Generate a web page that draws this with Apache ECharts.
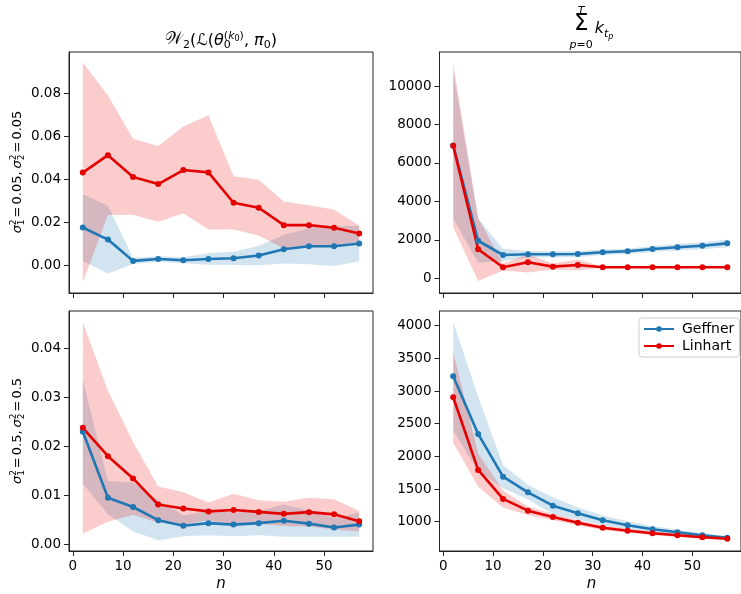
<!DOCTYPE html>
<html><head><meta charset="utf-8">
<script src="https://cdn.jsdelivr.net/npm/echarts@6/dist/echarts.min.js"></script>
<style>html,body{margin:0;padding:0;background:#fff}#c{width:741px;height:594px}</style>
</head><body><div id="c"></div>
<script>
// ---------- data ----------
const nValues = [2, 7, 12, 17, 22, 27, 32, 37, 42, 47, 52, 57];
const xTickValues = [0, 10, 20, 30, 40, 50];
const yTicksA = [0, 0.02, 0.04, 0.06, 0.08];
const yTicksB = [0, 2000, 4000, 6000, 8000, 10000];
const yTicksC = [0, 0.01, 0.02, 0.03, 0.04];
const yTicksD = [1000, 1500, 2000, 2500, 3000, 3500, 4000];

// top-left: W2 distance, sigma^2 = 0.05
const geffnerA    = [0.0177, 0.0121, 0.0022, 0.0031, 0.0025, 0.0031, 0.0034, 0.0047, 0.0076, 0.0090, 0.0090, 0.0103];
const geffnerA_hi = [0.0333, 0.0278, 0.0037, 0.0044, 0.0039, 0.0058, 0.0065, 0.0092, 0.0142, 0.0174, 0.0182, 0.0185];
const geffnerA_lo = [0.0022, -0.0037, 0.0008, 0.0018, 0.0011, 0.0004, 0.0003, 0.0002, 0.0010, 0.0006, -0.0002, 0.0021];
const linhartA    = [0.0432, 0.0513, 0.0412, 0.0379, 0.0444, 0.0433, 0.0292, 0.0269, 0.0188, 0.0188, 0.0176, 0.0149];
const linhartA_hi = [0.0943, 0.0790, 0.0589, 0.0555, 0.0646, 0.0698, 0.0415, 0.0399, 0.0298, 0.0280, 0.0261, 0.0185];
const linhartA_lo = [-0.0077, 0.0235, 0.0236, 0.0204, 0.0243, 0.0168, 0.0168, 0.0140, 0.0080, 0.0096, 0.0091, 0.0113];

// top-right: sum of k, sigma^2 = 0.05
const geffnerB    = [6917, 1951, 1209, 1245, 1245, 1261, 1349, 1401, 1520, 1609, 1692, 1816];
const geffnerB_hi = [10720, 3100, 1530, 1415, 1400, 1410, 1490, 1540, 1680, 1780, 1870, 2020];
const geffnerB_lo = [3114, 800, 890, 1075, 1085, 1110, 1210, 1260, 1360, 1440, 1510, 1610];
const linhartB    = [6900, 1505, 571, 830, 602, 690, 571, 571, 571, 571, 571, 571];
const linhartB_hi = [11190, 3150, 760, 1230, 760, 980, 600, 600, 600, 600, 600, 600];
const linhartB_lo = [2650, -150, 400, 300, 450, 420, 540, 540, 540, 540, 540, 540];

// bottom-left: W2 distance, sigma^2 = 0.5
const geffnerC    = [0.0230, 0.0095, 0.0076, 0.0049, 0.00375, 0.0043, 0.0040, 0.0043, 0.0048, 0.0042, 0.0034, 0.0040];
const geffnerC_hi = [0.0336, 0.0129, 0.0126, 0.0090, 0.0059, 0.0068, 0.0064, 0.0068, 0.0081, 0.0069, 0.0053, 0.0065];
const geffnerC_lo = [0.0124, 0.0061, 0.0026, 0.0008, 0.0016, 0.0018, 0.0016, 0.0018, 0.0015, 0.0015, 0.0015, 0.0015];
const linhartC    = [0.0238, 0.0180, 0.01345, 0.0081, 0.0073, 0.0067, 0.0070, 0.0066, 0.0062, 0.00655, 0.0061, 0.0047];
const linhartC_hi = [0.0454, 0.0314, 0.0209, 0.0118, 0.0106, 0.0085, 0.0103, 0.0090, 0.0087, 0.0095, 0.0092, 0.0068];
const linhartC_lo = [0.0022, 0.0046, 0.0060, 0.0044, 0.0040, 0.0049, 0.0037, 0.0042, 0.0037, 0.0036, 0.0030, 0.0026];

// bottom-right: sum of k, sigma^2 = 0.5
const geffnerD    = [3227, 2343, 1689, 1450, 1245, 1128, 1021, 945, 883, 838, 792, 755];
const geffnerD_hi = [4058, 2914, 1868, 1562, 1374, 1218, 1096, 1005, 933, 878, 822, 780];
const geffnerD_lo = [2396, 1772, 1510, 1338, 1116, 1038, 946, 885, 833, 798, 762, 730];
const linhartD    = [2905, 1792, 1348, 1168, 1072, 985, 908, 862, 822, 792, 761, 740];
const linhartD_hi = [3603, 2048, 1478, 1233, 1122, 1025, 943, 892, 850, 817, 783, 760];
const linhartD_lo = [2207, 1536, 1218, 1103, 1022, 945, 873, 832, 794, 767, 739, 720];

// ---------- style ----------
const FAM = '"DejaVu Sans", sans-serif';
const BLUE = '#1f77b4', RED = '#e50000';
const BLUE_FILL = 'rgba(31,119,180,0.2)', RED_FILL = 'rgba(229,0,0,0.2)';
const AX = '#222';

const grids = [
  {left: 69, top: 52, width: 304, height: 241},
  {left: 439.5, top: 52, width: 304.4, height: 241},
  {left: 69, top: 311, width: 304, height: 240},
  {left: 439.5, top: 311, width: 304.4, height: 240}
];

function xAx(gi, showLabels) {
  return {type: 'value', gridIndex: gi, min: -0.75, max: 59.75, splitLine: {show: false},
    axisLine: {show: true, onZero: false, lineStyle: {color: AX, width: 1}},
    axisTick: {show: true, length: 5, customValues: xTickValues, lineStyle: {color: AX, width: 1}},
    axisLabel: {show: showLabels, customValues: xTickValues, margin: 8, fontSize: 13.5, color: '#000', fontFamily: FAM}};
}
function yAx(gi, min, max, ticks, fmt) {
  return {type: 'value', gridIndex: gi, min: min, max: max, splitLine: {show: false},
    axisLine: {show: true, onZero: false, lineStyle: {color: AX, width: 1}},
    axisTick: {show: true, length: 5, customValues: ticks, lineStyle: {color: AX, width: 1}},
    axisLabel: {customValues: ticks, formatter: fmt, margin: 8, fontSize: 13.5, color: '#000', fontFamily: FAM}};
}

function band(gi, lo, hi, color) {
  return {type: 'custom', xAxisIndex: gi, yAxisIndex: gi, silent: true, z: 1, clip: true,
    data: nValues.map((v, j) => [v, lo[j], hi[j]]),
    encode: {x: 0, y: [1, 2]},
    renderItem: function (params, api) {
      if (params.dataIndexInside !== 0) return;
      const cnt = params.dataInsideLength;
      const top = [], bot = [];
      for (let j = 0; j < cnt; j++) {
        top.push(api.coord([api.value(0, j), api.value(2, j)]));
        bot.unshift(api.coord([api.value(0, j), api.value(1, j)]));
      }
      return {type: 'polygon', shape: {points: top.concat(bot)}, style: {fill: color}};
    }};
}
function line(gi, vals, name, color) {
  return {type: 'line', name: name, xAxisIndex: gi, yAxisIndex: gi, z: 3,
    data: nValues.map((v, j) => [v, vals[j]]),
    symbol: 'circle', symbolSize: 6, showAllSymbol: true,
    lineStyle: {width: 2.6, color: color}, itemStyle: {color: color},
    emphasis: {disabled: true}, animation: false};
}

// ---------- math text layout (graphic text) ----------
const mctx = document.createElement('canvas').getContext('2d');
function fnt(p) { return (p.it ? 'italic ' : '') + p.s + 'px ' + FAM; }
function tw(p) { mctx.font = fnt(p); return mctx.measureText(p.t).width; }
function lay(items, x0, base, out) {
  let x = x0;
  for (const p of items) {
    if (p.stack) {
      const ws = p.stack.map(r => lay(r.items, 0, 0, null));
      const W = Math.max.apply(null, ws);
      p.stack.forEach((r, i) => lay(r.items, x + (p.center ? (W - ws[i]) / 2 : 0), base + (r.dy || 0), out));
      x += W;
    } else if (p.sp) {
      x += p.sp;
    } else {
      const w = tw(p);
      if (out) out.push({type: 'text', x: x, y: -(base + (p.dy || 0)) - 0.35 * p.s,
        style: {text: p.t, font: fnt(p), fill: '#000', textAlign: 'left', textVerticalAlign: 'middle', verticalAlign: 'middle'}});
      x += w;
    }
  }
  return x - x0;
}
function mathGroup(items, cx, cy, rot) {
  const out = [];
  const W = lay(items, 0, 0, null);
  lay(items, -W / 2, 0, out);
  return {type: 'group', x: cx, y: cy, rotation: rot || 0, children: out};
}

const S = 16, s2 = 11, s3 = 8;
const titleA = [
  {t: '𝒲', s: S + 1}, {t: '2', s: s2, dy: -3},
  {t: '(', s: S}, {t: 'ℒ', s: S}, {t: '(', s: S}, {t: 'θ', s: S, it: true},
  {stack: [
    {dy: 6.5, items: [{t: '(', s: s2}, {t: 'k', s: s2, it: true}, {t: '0', s: s3, dy: -2}, {t: ')', s: s2}]},
    {dy: -2.5, items: [{t: '0', s: s2}]}
  ]},
  {t: ', ', s: S}, {t: 'π', s: S, it: true}, {t: '0', s: s2, dy: -3}, {t: ')', s: S}
];
const titleB = [
  {stack: [
    {dy: 2, items: [{t: 'Σ', s: 23}]},
    {dy: 19, items: [{t: 'T', s: s2, it: true}]},
    {dy: -15, items: [{t: 'p', s: s2, it: true}, {t: '=0', s: s2}]}
  ], center: true},
  {sp: 2},
  {t: 'k', s: S, it: true}, {t: 't', s: s2, it: true, dy: -4}, {t: 'p', s: s3, it: true, dy: -6}
];
function sigLabel(v) {
  const L = 13, sm = 9;
  return [
    {t: 'σ', s: L, it: true},
    {stack: [{dy: 5, items: [{t: '2', s: sm}]}, {dy: -3, items: [{t: '1', s: sm}]}]},
    {sp: 2}, {t: '=', s: L}, {sp: 2}, {t: v + ',', s: L}, {sp: 3},
    {t: 'σ', s: L, it: true},
    {stack: [{dy: 5, items: [{t: '2', s: sm}]}, {dy: -3, items: [{t: '2', s: sm}]}]},
    {sp: 2}, {t: '=', s: L}, {sp: 2}, {t: v, s: L}
  ];
}

const f2 = v => v.toFixed(2);
const f0 = v => String(v);

const option = {
  animation: false,
  grid: grids.map(g => Object.assign({show: true, borderColor: AX, borderWidth: 1, backgroundColor: 'transparent'}, g)),
  xAxis: [xAx(0, false), xAx(1, false), xAx(2, true), xAx(3, true)],
  yAxis: [
    yAx(0, -0.0127, 0.0992, yTicksA, f2),
    yAx(1, -770, 11780, yTicksB, f0),
    yAx(2, -0.0014, 0.0477, yTicksC, f2),
    yAx(3, 551, 4225, yTicksD, f0)
  ],
  legend: {data: ['Geffner', 'Linhart'], orient: 'vertical', left: 639, top: 318,
    padding: [4, 5, 4, 4], itemGap: 3, itemWidth: 30, itemHeight: 7,
    textStyle: {fontSize: 14, fontFamily: FAM, color: '#000', padding: [0, 0, 0, 3]},
    borderColor: '#ccc', borderWidth: 1, borderRadius: 3, backgroundColor: 'rgba(255,255,255,0.8)'},
  series: [
    band(0, geffnerA_lo, geffnerA_hi, BLUE_FILL), band(0, linhartA_lo, linhartA_hi, RED_FILL),
    band(1, geffnerB_lo, geffnerB_hi, BLUE_FILL), band(1, linhartB_lo, linhartB_hi, RED_FILL),
    band(2, geffnerC_lo, geffnerC_hi, BLUE_FILL), band(2, linhartC_lo, linhartC_hi, RED_FILL),
    band(3, geffnerD_lo, geffnerD_hi, BLUE_FILL), band(3, linhartD_lo, linhartD_hi, RED_FILL),
    line(0, geffnerA, 'Geffner', BLUE), line(0, linhartA, 'Linhart', RED),
    line(1, geffnerB, 'Geffner', BLUE), line(1, linhartB, 'Linhart', RED),
    line(2, geffnerC, 'Geffner', BLUE), line(2, linhartC, 'Linhart', RED),
    line(3, geffnerD, 'Geffner', BLUE), line(3, linhartD, 'Linhart', RED)
  ],
  graphic: {elements: [
    mathGroup(titleA, 221, 46, 0),
    mathGroup(titleB, 591.5, 34, 0),
    mathGroup(sigLabel('0.05'), 22, 172, Math.PI / 2),
    mathGroup(sigLabel('0.5'), 22, 431, Math.PI / 2),
    mathGroup([{t: 'n', s: 15, it: true}], 221, 589, 0),
    mathGroup([{t: 'n', s: 15, it: true}], 591.5, 589, 0)
  ]}
};

const chart = echarts.init(document.getElementById('c'), null, {renderer: 'canvas'});
chart.setOption(option);
</script>
</body></html>
